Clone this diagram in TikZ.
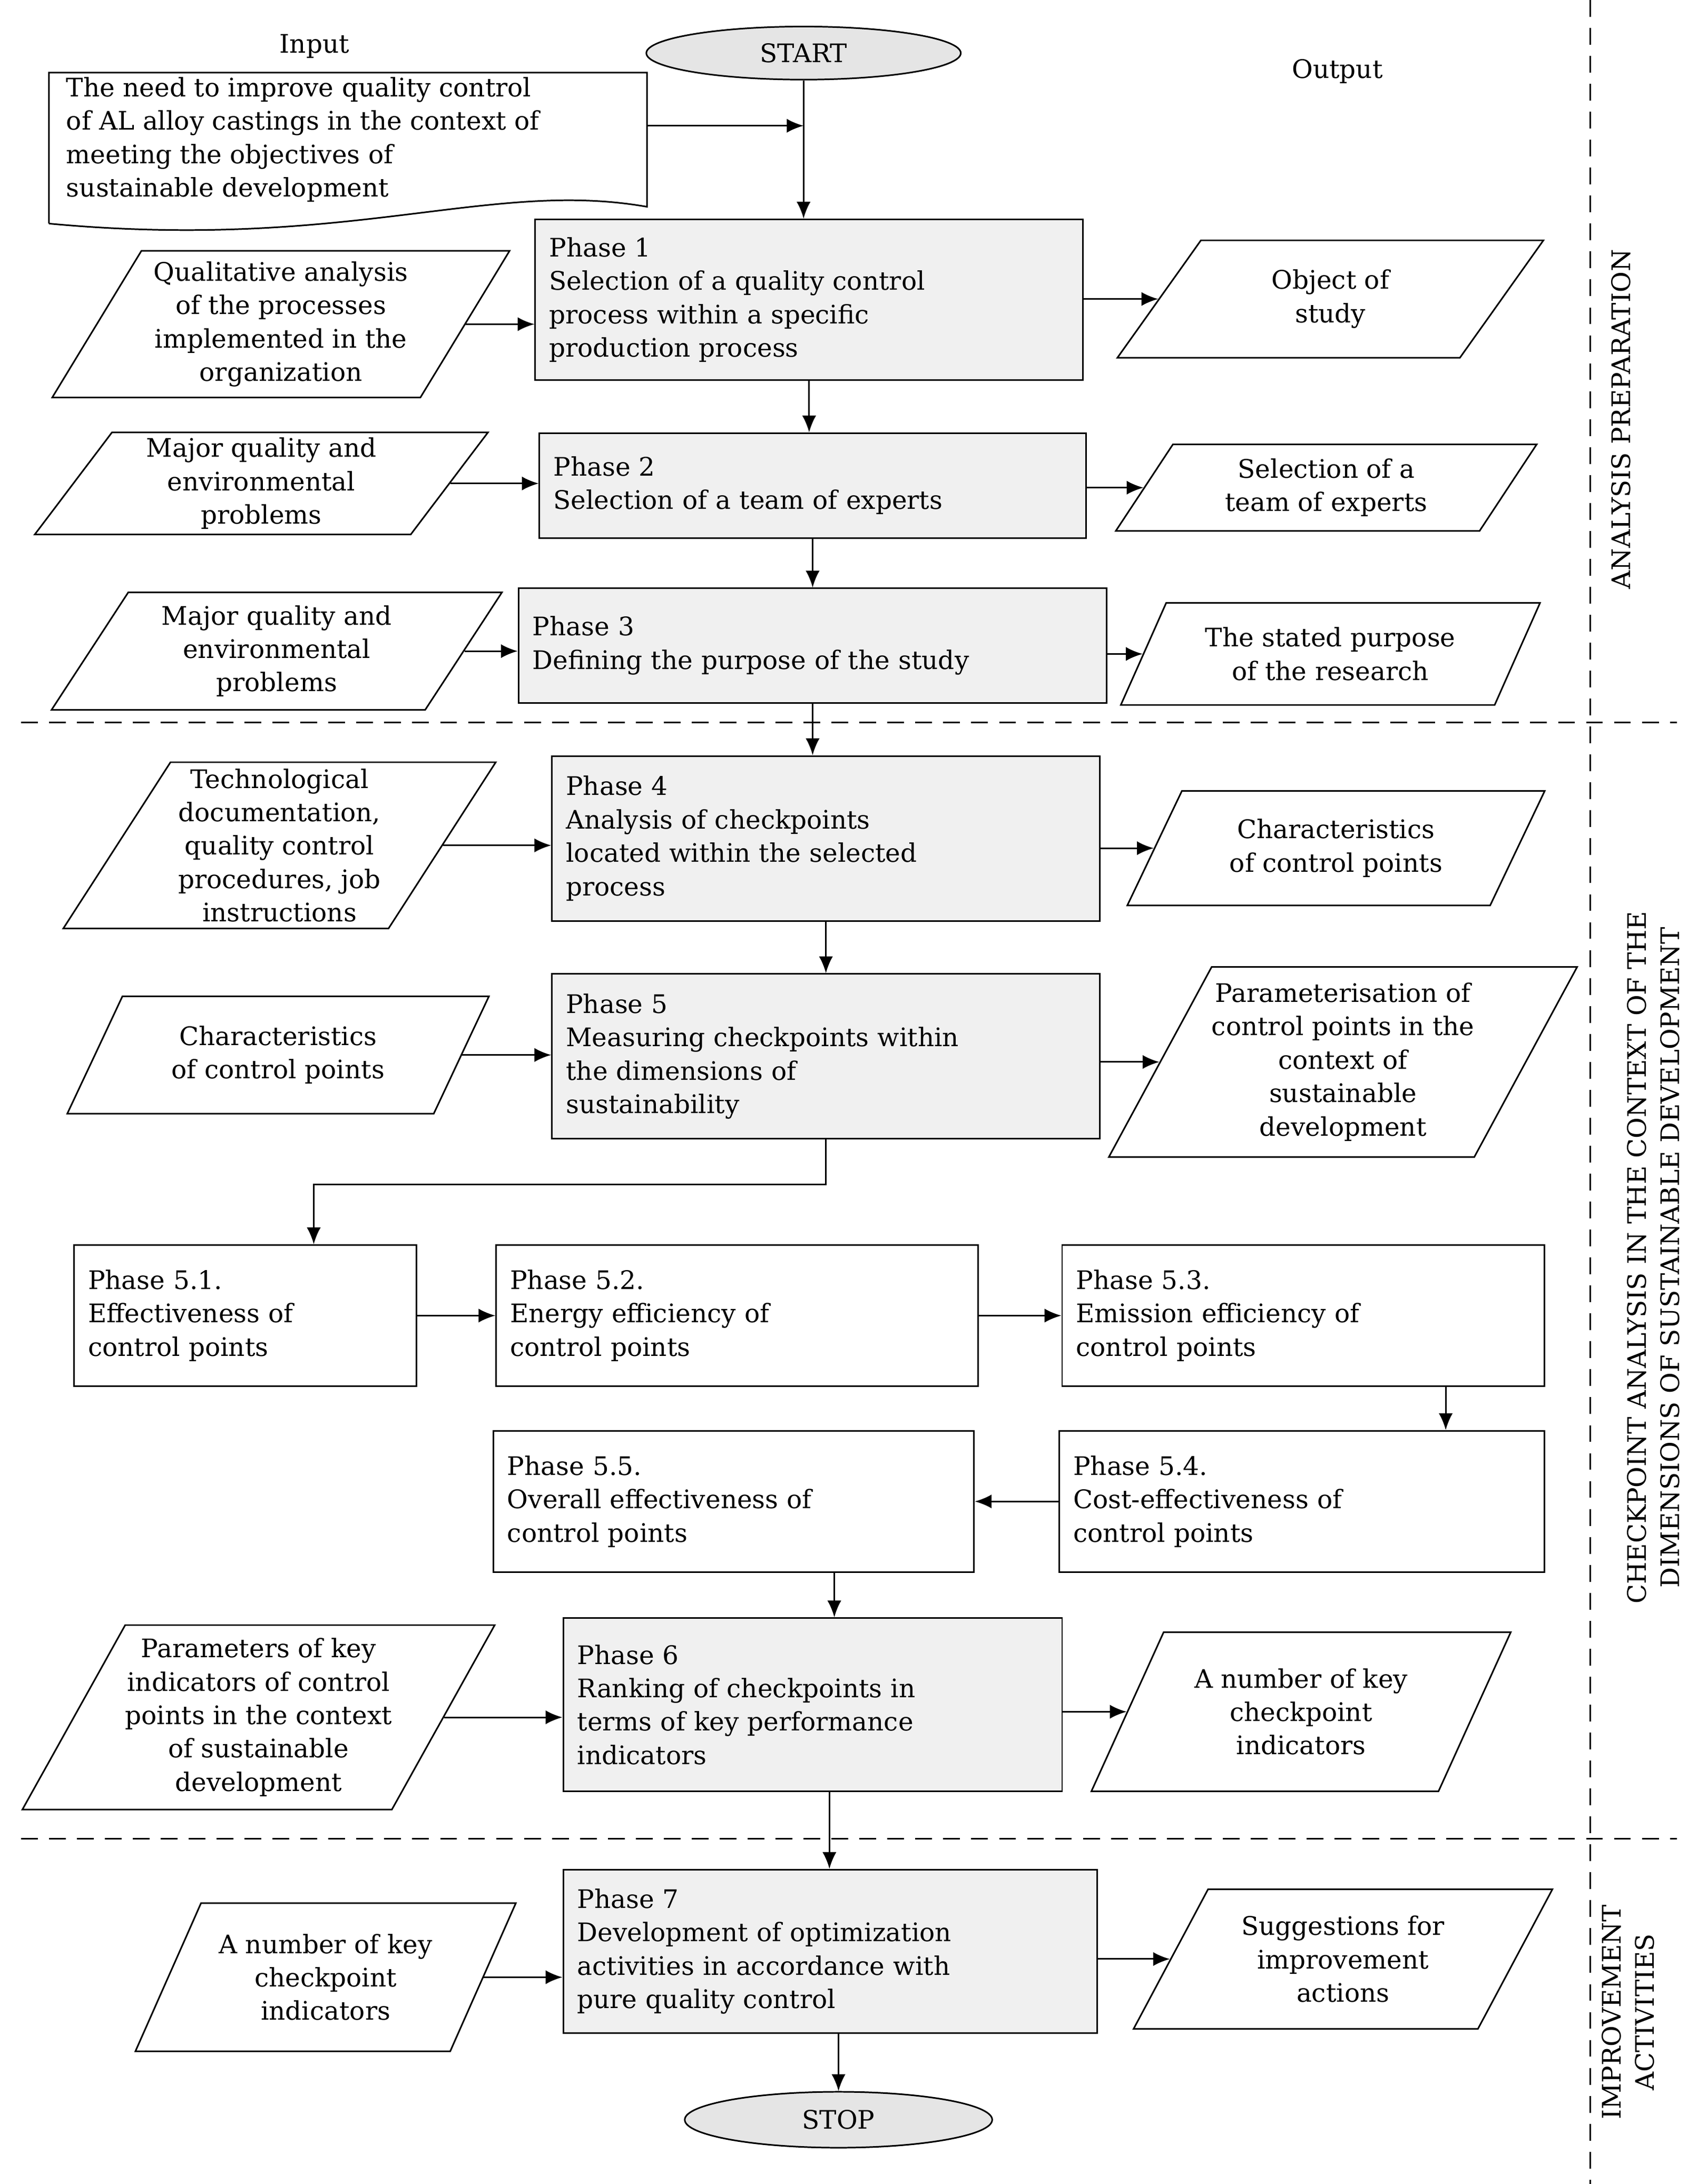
\documentclass[tikz,border=0pt]{standalone}
\usepackage{fontspec}
\setmainfont{DejaVu Serif}
\usetikzlibrary{shapes.geometric,arrows.meta}
\begin{document}
\def\u{0.05cm}
\begin{tikzpicture}[x=0.05cm,y=-0.05cm,
  every node/.style={font=\fontsize{26}{34}\selectfont},
  phase/.style={draw,line width=1.6pt,fill=black!6,align=left,text width=#1*\u-1cm,inner sep=0.5cm},
  sub/.style={draw,line width=1.6pt,fill=white,align=left,text width=#1*\u-1cm,inner sep=0.5cm},
  para/.style={draw,line width=1.6pt,trapezium,trapezium left angle=57,trapezium right angle=123,trapezium stretches=true,align=center,inner sep=0pt},
  arr/.style={-{Latex[length=0.6cm,width=0.5cm]},line width=1.6pt},
  ln/.style={line width=1.6pt},
  divline/.style={line width=1.6pt,dash pattern=on 0.6cm off 0.4cm}]
\useasboundingbox (0,0) rectangle (1215,1563);
% labels
\node (inlab) at (225,33) {Input};
\node (outlab) at (957,51) {Output};
\node[draw,ellipse,line width=1.6pt,fill=black!10,minimum width=225*\u,minimum height=38*\u] (start) at (575,38) {START};
% document
\draw[ln,fill=white] (35,160) -- (35,52) -- (463,52) -- (463,148) .. controls (350,128) and (250,180) .. (35,160);
\node[align=left,anchor=west] (doc) at (45,100) {The need to improve quality control\\of AL alloy castings in the context of\\meeting the objectives of\\sustainable development};
\coordinate (docR) at (463,90);
% phases
\node[phase=392,minimum height=115*\u] (p1) at (579,214.5) {Phase 1\\Selection of a quality control\\process within a specific\\production process};
\node[phase=391,minimum height=75*\u] (p2) at (581.5,347.5) {Phase 2\\Selection of a team of experts};
\node[phase=421,minimum height=82*\u] (p3) at (581.5,462) {Phase 3\\Defining the purpose of the study};
\node[phase=392,minimum height=118*\u] (p4) at (591,600) {Phase 4\\Analysis of checkpoints\\located within the selected\\process};
\node[phase=392,minimum height=118*\u] (p5) at (591,756) {Phase 5\\Measuring checkpoints within\\the dimensions of\\sustainability};
\node[sub=245,minimum height=101*\u] (p51) at (175.5,941.5) {Phase 5.1.\\Effectiveness of\\control points};
\node[sub=345,minimum height=101*\u] (p52) at (527.5,941.5) {Phase 5.2.\\Energy efficiency of\\control points};
\node[sub=345,minimum height=101*\u] (p53) at (932.5,941.5) {Phase 5.3.\\Emission efficiency of\\control points};
\node[sub=347,minimum height=101*\u] (p54) at (931.5,1074.5) {Phase 5.4.\\Cost-effectiveness of\\control points};
\node[sub=344,minimum height=101*\u] (p55) at (525,1074.5) {Phase 5.5.\\Overall effectiveness of\\control points};
\node[phase=357,minimum height=124*\u] (p6) at (581.5,1220) {Phase 6\\Ranking of checkpoints in\\terms of key performance\\indicators};
\node[phase=382,minimum height=117*\u] (p7) at (594,1396.5) {Phase 7\\Development of optimization\\activities in accordance with\\pure quality control};
\node[draw,ellipse,line width=1.6pt,fill=black!10,minimum width=220*\u,minimum height=40*\u] (stop) at (600,1517) {STOP};
% parallelograms
\node[para,minimum width=328*\u,minimum height=105*\u] (l1) at (201,232) {Qualitative analysis\\of the processes\\implemented in the\\organization};
\node[para,minimum width=305*\u,minimum height=84*\u] (r1) at (952,214) {Object of\\study};
\node[para,minimum width=325*\u,minimum height=73*\u] (l2) at (187,346) {Major quality and\\environmental\\problems};
\node[para,minimum width=302*\u,minimum height=62*\u] (r2) at (949,349) {Selection of a\\team of experts};
\node[para,minimum width=323*\u,minimum height=84*\u] (l3) at (198,466) {Major quality and\\environmental\\problems};
\node[para,minimum width=301*\u,minimum height=73*\u] (r3) at (952,468) {The stated purpose\\of the research};
\node[para,minimum width=310*\u,minimum height=119*\u] (l4) at (200,605) {Technological\\documentation,\\quality control\\procedures, job\\instructions};
\node[para,minimum width=299*\u,minimum height=82*\u] (r4) at (956,607) {Characteristics\\of control points};
\node[para,minimum width=302*\u,minimum height=84*\u] (l5) at (199,755) {Characteristics\\of control points};
\node[para,minimum width=302*\u,minimum height=136*\u] (r5) at (961,760) {Parameterisation of\\control points in the\\context of\\sustainable\\development};
\node[para,minimum width=300*\u,minimum height=132*\u] (l6) at (185,1229) {Parameters of key\\indicators of control\\points in the context\\of sustainable\\development};
\node[para,minimum width=301*\u,minimum height=114*\u] (r6) at (931,1225) {A number of key\\checkpoint\\indicators};
\node[para,minimum width=273*\u,minimum height=106*\u] (l7) at (233,1415) {A number of key\\checkpoint\\indicators};
\node[para,minimum width=301*\u,minimum height=100*\u] (r7) at (961,1402) {Suggestions for\\improvement\\actions};
% connectors
\draw[ln] (start.south) -- (docR -| start.south);
\draw[arr] (docR -| start.south) -- (start.south |- p1.north);
\draw[arr] (docR) -- (docR -| start.south);
\draw[arr] (p1.south) -- (p1.south |- p2.north);
\draw[arr] (p2.south) -- (p2.south |- p3.north);
\draw[arr] (p3.south) -- (p3.south |- p4.north);
\draw[arr] (p4.south) -- (p4.south |- p5.north);
\draw[arr] (p5.south) -- ++(0,32) -| ([xshift=49*\u]p51.north);
\draw[arr] (p51.east) -- (p52.west);
\draw[arr] (p52.east) -- (p53.west);
\draw[arr] ([xshift=102*\u]p53.south) -- ([xshift=103*\u]p54.north);
\draw[arr] (p54.west) -- (p55.east);
\draw[arr] ([xshift=72*\u]p55.south) -- ([xshift=72*\u]p55.south |- p6.north);
\draw[arr] ([xshift=12*\u]p6.south) -- ([xshift=12*\u]p6.south |- p7.north);
\draw[arr] ([xshift=6*\u]p7.south) -- ([xshift=6*\u]p7.south |- stop.north);
\foreach \a/\b in {l1/p1,l2/p2,l3/p3,l4/p4,l5/p5,l6/p6,l7/p7}
  \draw[arr] (\a.east) -- (\a.east -| \b.west);
\foreach \a/\b in {p1/r1,p2/r2,p3/r3,p4/r4,p5/r5,p6/r6,p7/r7}
  \draw[arr] (\b.west -| \a.east) -- (\b.west);
% dividers
\draw[divline] (15,517) -- (1200,517);
\draw[divline] (15,1316) -- (1200,1316);
\draw[divline] (1138,0) -- (1138,1563);
\node[rotate=90] (s1) at (1160,300) {ANALYSIS PREPARATION};
\node[rotate=90,align=center] (s2) at (1183,900) {CHECKPOINT ANALYSIS IN THE CONTEXT OF THE\\DIMENSIONS OF SUSTAINABLE DEVELOPMENT};
\node[rotate=90,align=center] (s3) at (1165,1440) {IMPROVEMENT\\ACTIVITIES};
\end{tikzpicture}
\end{document}
